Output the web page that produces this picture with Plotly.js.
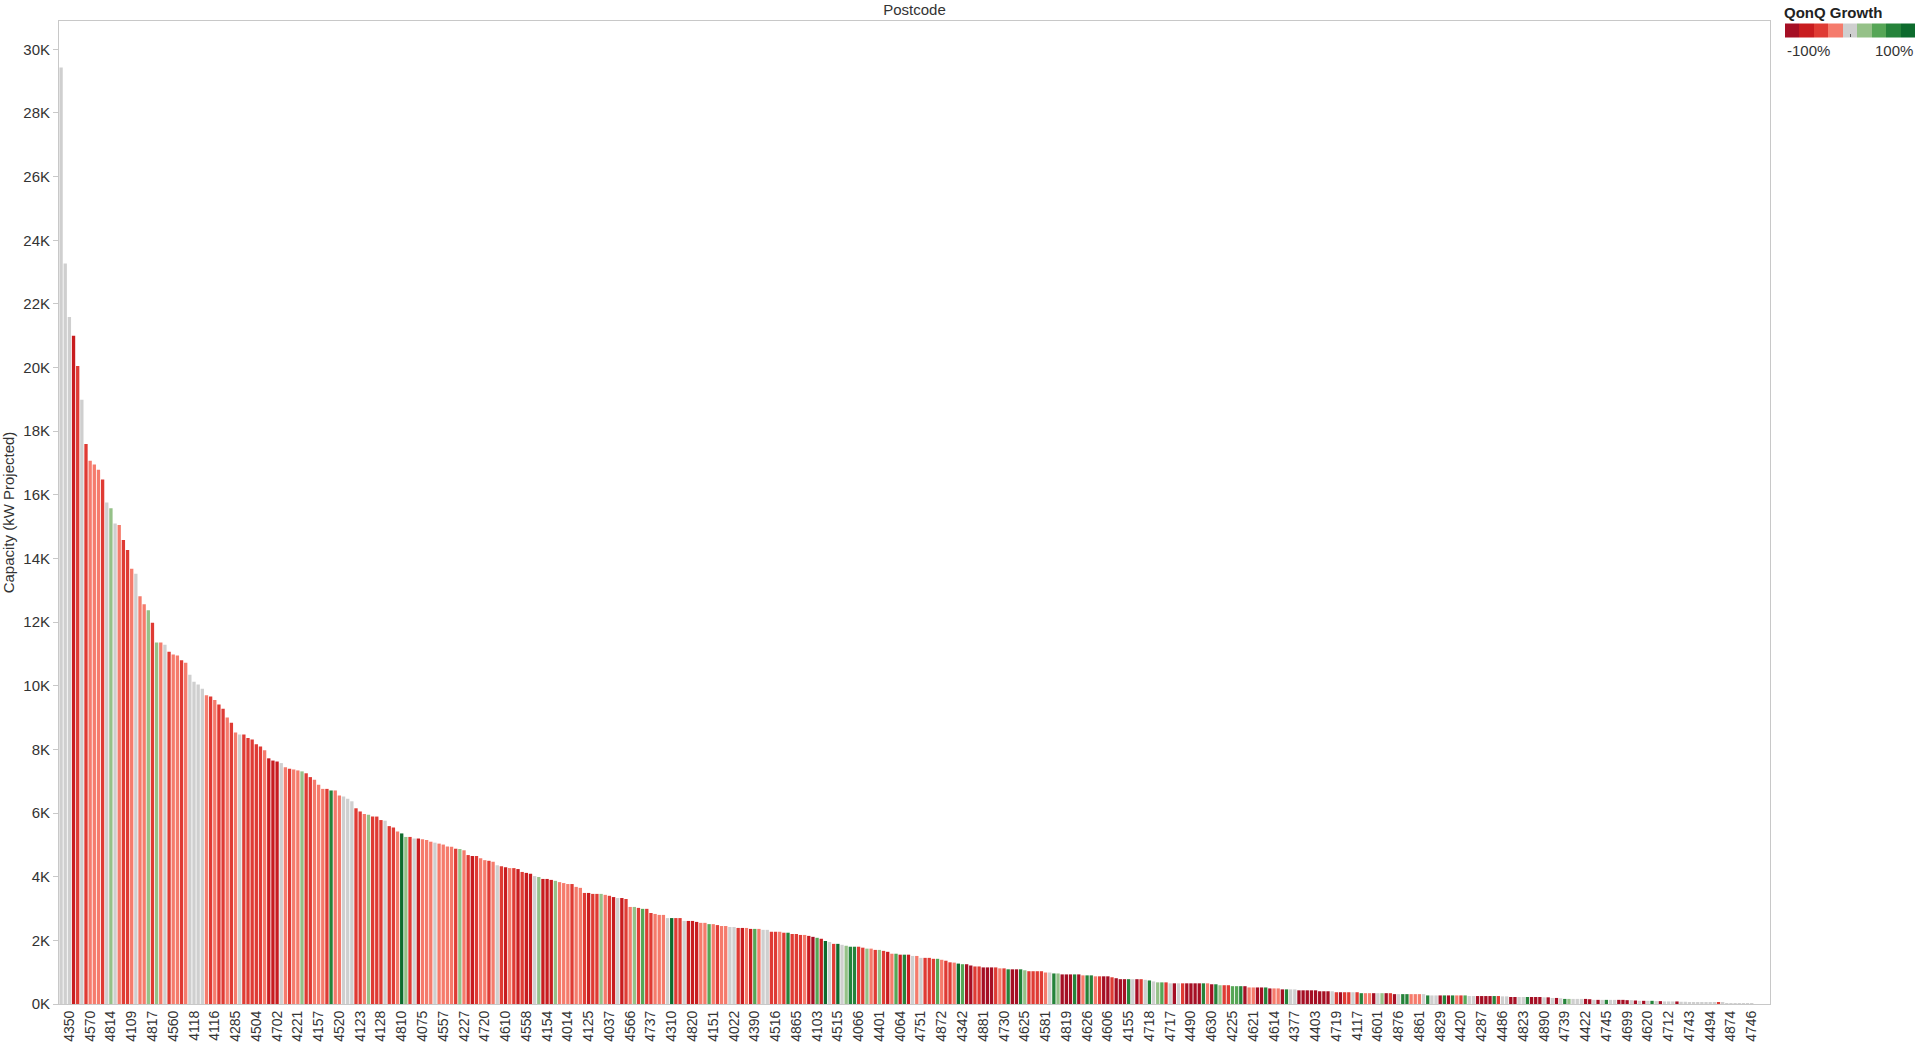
<!DOCTYPE html>
<html><head><meta charset="utf-8">
<script src="https://cdn.plot.ly/plotly-3.0.1.min.js"></script>
<style>html,body{margin:0;padding:0;background:#fff;} #chart{width:1920px;height:1044px;}</style>
</head><body><div id="chart"></div>
<script>
// Capacity (kW Projected) per postcode, sorted descending (408 postcodes)
const capacity = [
29430,23270,21590,21000,20050,18990,17600,17070,16950,16790,16480,15760,15580,15100,15050,14580,14270,13680,13520,12810,
12560,12370,11980,11360,11360,11290,11070,10980,10950,10800,10720,10350,10130,10040,9910,9700,9660,9550,9410,9280,
9000,8840,8530,8470,8470,8360,8310,8160,8090,7970,7720,7650,7620,7570,7440,7390,7370,7340,7310,7250,
7130,7050,6890,6760,6760,6710,6710,6550,6520,6450,6370,6150,6050,5970,5950,5890,5890,5780,5760,5590,
5550,5420,5360,5250,5250,5200,5200,5180,5150,5100,5070,5040,5010,4950,4940,4880,4870,4830,4680,4650,
4650,4580,4520,4500,4470,4360,4330,4300,4270,4270,4240,4150,4120,4090,4020,3990,3930,3930,3900,3870,
3830,3800,3770,3770,3680,3650,3490,3490,3460,3460,3460,3430,3400,3360,3330,3330,3300,3050,3050,3020,
2990,2990,2860,2830,2800,2800,2700,2700,2700,2700,2610,2610,2610,2580,2550,2550,2510,2510,2480,2450,
2450,2420,2420,2390,2390,2390,2360,2360,2360,2330,2330,2270,2270,2270,2240,2240,2200,2200,2170,2170,
2140,2110,2080,2050,1980,1950,1890,1890,1860,1830,1800,1800,1800,1770,1740,1740,1700,1700,1670,1640,
1580,1580,1550,1550,1550,1510,1510,1450,1450,1450,1420,1420,1390,1360,1310,1300,1270,1250,1250,1210,
1180,1180,1150,1150,1150,1150,1120,1120,1090,1090,1090,1090,1060,1030,1030,1030,1030,990,990,960,
960,930,930,930,930,930,900,900,900,870,870,870,870,840,810,780,780,780,780,780,
780,760,740,710,680,680,680,650,650,650,650,650,650,650,650,650,650,620,620,590,
590,590,560,560,560,560,520,520,520,520,520,490,490,490,460,460,460,460,430,430,
430,430,430,400,400,400,400,370,370,370,370,370,370,340,340,340,340,340,340,340,
340,310,310,310,310,310,310,310,310,270,270,270,270,270,270,270,270,270,270,250,
250,250,250,250,250,250,250,240,240,220,220,220,220,220,220,220,220,210,210,190,
190,180,160,160,160,160,160,160,150,130,130,130,130,130,130,130,130,120,120,110,
100,100,100,100,90,90,80,80,80,80,70,70,60,60,50,50,50,50,40,60,
40,30,30,30,30,20,20,20
];

// QonQ Growth, stepped into 9 bins: -4 (-100%) ... 0 (no change) ... +4 (+100%)
const growthBin = [
0,0,0,-3,-2,0,-2,-1,-1,-1,-2,0,1,0,-1,-2,-2,-1,0,-1,
-1,1,-2,1,-1,0,-2,-1,-1,-2,-1,0,0,0,0,-1,-2,-1,-2,-2,
-1,-2,-1,0,-2,-2,-2,-2,-2,-1,-3,-3,-3,0,-1,-2,-1,-1,1,-2,
-2,-1,-1,-1,-2,3,-1,-1,0,0,0,-2,-2,-1,1,-2,-2,-2,0,-2,
-2,-1,4,1,-2,0,-3,-1,-1,-1,0,-1,-1,-1,-1,-2,1,-1,-2,-3,
-2,-1,-1,-2,-1,0,-2,-3,-1,-2,-3,-2,-3,-3,0,1,-3,-3,-3,1,
-1,-1,-1,-2,-1,-1,-2,-3,-2,-2,1,-1,-2,-3,0,-3,-2,-1,1,-2,
2,-2,-2,-1,-1,-1,0,4,-2,-2,0,-3,-3,-3,-1,-1,2,-1,-2,-1,
-1,0,0,-2,-3,-1,-3,2,-1,0,0,-2,-2,-1,-2,3,-2,-2,-2,-1,
-3,-4,2,-3,4,0,-2,4,0,1,3,3,-2,-2,1,-1,-2,1,-2,-3,
-1,2,-3,3,-3,0,-1,0,-2,-2,-2,2,-1,-2,-2,-1,4,2,-4,-4,
-2,-2,-4,-4,-4,-2,-1,-2,3,-4,-4,3,1,-2,-2,-2,-2,-1,0,3,
1,-4,-4,-4,3,-4,-1,3,3,-1,-2,-4,-4,-2,-4,-4,-4,3,0,-4,
-2,0,3,0,1,2,-2,0,-4,0,-2,-4,-4,-4,-4,3,-1,-4,3,1,
-2,-2,2,2,3,-4,-1,-1,-4,-4,3,-4,-1,-1,-4,3,0,0,-4,-4,
-4,-4,-4,-4,-4,-4,0,-2,-4,-2,-2,0,-2,3,-1,-1,-4,0,1,-4,
-2,-4,0,3,3,-1,-1,-1,0,3,0,0,-4,3,-4,3,-1,-2,2,0,
0,-4,-4,-4,-4,3,-2,0,0,-4,-4,0,0,3,-4,-4,-4,0,-4,0,
-4,0,3,1,0,0,0,-4,-4,0,-4,0,3,0,0,-4,-4,-4,0,-4,
0,-4,0,3,0,-4,0,0,0,-4,0,0,0,0,0,0,0,0,0,-2,
0,0,0,0,0,0,0,0
];

// Postcode labels shown on the axis (every 5th bar, starting with the 3rd)
const tickPostcodes = [
'4350','4570','4814','4109','4817','4560','4118','4116','4285','4504',
'4702','4221','4157','4520','4123','4128','4810','4075','4557','4227',
'4720','4610','4558','4154','4014','4125','4037','4566','4737','4310',
'4820','4151','4022','4390','4516','4865','4103','4515','4066','4401',
'4064','4751','4872','4342','4881','4730','4625','4581','4819','4626',
'4606','4155','4718','4717','4490','4630','4225','4621','4614','4377',
'4403','4719','4117','4601','4876','4861','4829','4420','4287','4486',
'4823','4890','4739','4422','4745','4699','4620','4712','4743','4494',
'4874','4746'
];

const binColors = ['#a50f24','#c81c1f','#df3b34','#f57b6c','#cfcfcf','#95c188','#56a656','#25833a','#0d6b2d'];
const yTickValues = [0,2000,4000,6000,8000,10000,12000,14000,16000,18000,20000,22000,24000,26000,28000,30000];

const rank = capacity.map((_, i) => i);
const tickPos = tickPostcodes.map((_, k) => 2 + 5 * k);
const colorscale = [];
binColors.forEach((c, i) => { colorscale.push([i / 9, c]); colorscale.push([(i + 1) / 9, c]); });

const W = 1920, H = 1044, ML = 59, MR = 150, MT = 21, MB = 40;
const PW = W - ML - MR, PH = H - MT - MB;
const px = X => (X - ML) / PW;
const py = Y => (H - MB - Y) / PH;

const trace = {
  type: 'bar',
  x: rank,
  y: capacity,
  marker: {
    color: growthBin.map(b => b * 2 / 9),
    colorscale: colorscale,
    cmin: -1, cmax: 1,
    line: {width: 0},
    showscale: true,
    colorbar: {
      orientation: 'h',
      lenmode: 'pixels', len: 130,
      thickness: 14,
      x: px(1785), xanchor: 'left',
      y: py(32), yanchor: 'middle',
      xpad: 0, ypad: 0,
      outlinewidth: 0,
      tickmode: 'array', tickvals: [0],
      ticks: 'inside', ticklen: 3, tickcolor: '#555', tickwidth: 1,
      showticklabels: false,
      title: {text: ''}
    }
  },
  hoverinfo: 'y'
};

const font = 'Liberation Sans, Arial, sans-serif';
const layout = {
  width: W, height: H,
  margin: {l: ML, r: MR, t: MT, b: MB, autoexpand: false},
  paper_bgcolor: '#ffffff', plot_bgcolor: '#ffffff',
  font: {family: font, color: '#333333'},
  title: {text: 'Postcode', font: {family: font, size: 15, color: '#333333'},
          x: 0.5, xref: 'paper', xanchor: 'center', y: 1 - 10 / H, yref: 'container', yanchor: 'middle'},
  bargap: 0.2,
  showlegend: false,
  xaxis: {
    range: [-0.5, 411.4],
    tickmode: 'array', tickvals: tickPos, ticktext: tickPostcodes,
    tickangle: -90, ticks: '',
    tickfont: {family: font, size: 14, color: '#333333'},
    showline: true, mirror: true, linecolor: '#c8c8c8', linewidth: 1,
    showgrid: false, zeroline: false
  },
  yaxis: {
    range: [0, 30890],
    tickmode: 'array', tickvals: yTickValues, ticktext: yTickValues.map(v => (v / 1000) + 'K'),
    ticks: 'outside', ticklen: 5, tickcolor: '#c8c8c8',
    tickfont: {family: font, size: 15, color: '#333333'},
    showline: true, mirror: true, linecolor: '#c8c8c8', linewidth: 1,
    showgrid: false, zeroline: false,
    title: {text: 'Capacity (kW Projected)', font: {family: font, size: 15, color: '#333333'}, standoff: 8}
  },
  annotations: [
    {text: '<b>QonQ Growth</b>', xref: 'paper', yref: 'paper', x: px(1782), y: py(12),
     xanchor: 'left', yanchor: 'middle', showarrow: false, font: {family: font, size: 15, color: '#222222'}},
    {text: '-100%', xref: 'paper', yref: 'paper', x: px(1785), y: py(51),
     xanchor: 'left', yanchor: 'middle', showarrow: false, font: {family: font, size: 15, color: '#333333'}},
    {text: '100%', xref: 'paper', yref: 'paper', x: px(1915), y: py(51),
     xanchor: 'right', yanchor: 'middle', showarrow: false, font: {family: font, size: 15, color: '#333333'}}
  ]
};

Plotly.newPlot('chart', [trace], layout, {displayModeBar: false, responsive: false});
</script>
</body></html>
